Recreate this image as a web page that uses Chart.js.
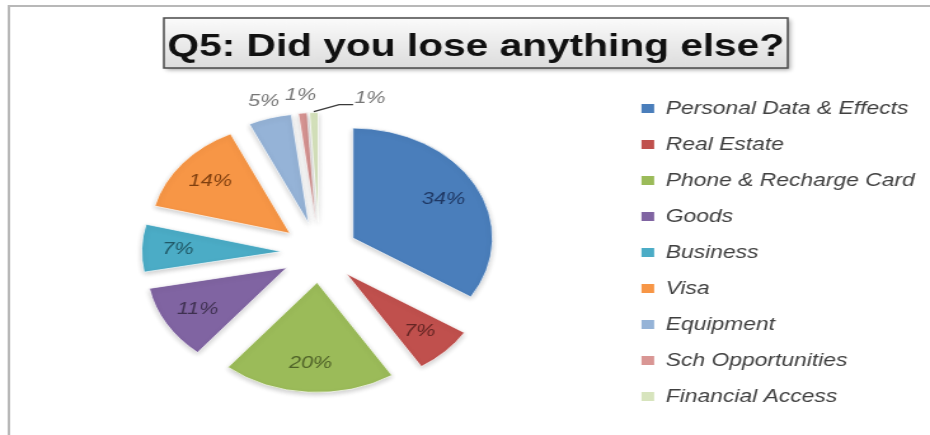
<!DOCTYPE html>
<html>
<head>
<meta charset="utf-8">
<script src="https://cdn.jsdelivr.net/npm/chart.js@4.4.0/dist/chart.umd.min.js"></script>
<style>
  html, body { margin: 0; padding: 0; background: #fff; overflow: hidden; }
  #stage { width: 930px; height: 435px; position: relative; overflow: hidden; }
  /* the original picture is stretched sideways, so draw narrow and stretch */
  #wrap { position: absolute; left: 0; top: 0; width: 732px; height: 435px; transform: scaleX(1.2705); transform-origin: 0 0; }
</style>
</head>
<body>
<div id="stage"><div id="wrap"><canvas id="chart"></canvas></div></div>
<script>
const chartTitle = 'Q5: Did you lose anything else?';
const categories = ['Personal Data & Effects', 'Real Estate', 'Phone & Recharge Card', 'Goods', 'Business', 'Visa', 'Equipment', 'Sch Opportunities', 'Financial Access'];
const values = [34, 7, 20, 11, 7, 14, 5, 1, 1];

const sliceColors = ['#4A7EBB', '#C0504D', '#9BBB59', '#8064A2', '#4BACC6', '#F79646', '#95B3D7', '#D99694', '#D7E4BD'];
const labelColors = ['#1F3864', '#632523', '#4F6228', '#3F3151', '#215967', '#7F3F0F', '#767676', '#767676', '#767676'];

// pulls every slice out along its bisector, like Excel's exploded pie
const explodePlugin = {
    id: 'explode',
    afterDatasetUpdate(chart, args, opts) {
        args.meta.data.forEach(arc => {
            const mid = (arc.startAngle + arc.endAngle) / 2;
            arc.x += Math.cos(mid) * opts.distance;
            arc.y += Math.sin(mid) * opts.distance;
        });
    },
    beforeDatasetsDraw(chart) {
        const ctx = chart.ctx;
        ctx.save();
        ctx.shadowColor = 'rgba(0, 0, 0, 0.2)';
        ctx.shadowBlur = 5;
        ctx.shadowOffsetY = 2;
    },
    afterDatasetsDraw(chart) {
        chart.ctx.restore();
    }
};

const sliceLabelPlugin = {
    id: 'sliceLabels',
    afterDatasetsDraw(chart, args, opts) {
        const ctx = chart.ctx;
        const meta = chart.getDatasetMeta(0);
        const total = values.reduce((a, b) => a + b, 0);
        ctx.save();
        ctx.font = 'italic 17px "Liberation Sans", Arial, sans-serif';
        ctx.textAlign = 'center';
        ctx.textBaseline = 'middle';
        let prev = null;
        meta.data.forEach((arc, i) => {
            const pct = Math.round(values[i] / total * 100);
            const text = pct + '%';
            const mid = (arc.startAngle + arc.endAngle) / 2;
            const r = arc.outerRadius;
            const w = ctx.measureText(text).width;
            ctx.fillStyle = labelColors[i];
            if (pct >= opts.insideMin) {
                ctx.fillText(text, arc.x + Math.cos(mid) * r * opts.inside, arc.y + Math.sin(mid) * r * opts.inside);
                return;
            }
            let x = arc.x + Math.cos(mid) * r * opts.outside;
            let y = arc.y + Math.sin(mid) * r * opts.outside;
            if (prev && x - prev.x < (prev.w + w) / 2 + 4) {
                x = prev.x + prev.w / 2 + opts.leaderGap + w / 2;
                y = prev.y + 3;
                ctx.save();
                ctx.strokeStyle = '#3a3a3a';
                ctx.lineWidth = 1.3;
                ctx.beginPath();
                ctx.moveTo(arc.x + Math.cos(mid) * (r + 1), arc.y + Math.sin(mid) * (r + 1));
                ctx.lineTo(x - w / 2 - 12, y + 6);
                ctx.lineTo(x - w / 2 - 1, y + 6);
                ctx.stroke();
                ctx.restore();
            }
            ctx.fillText(text, x, y);
            prev = { x, y, w };
        });
        ctx.restore();
    }
};

const titleBoxPlugin = {
    id: 'titleBox',
    beforeDraw(chart, args, o) {
        const ctx = chart.ctx;
        ctx.save();
        ctx.strokeStyle = '#b8b8b8';
        ctx.lineWidth = 2;
        ctx.beginPath();
        ctx.moveTo(7, chart.height);
        ctx.lineTo(7, 6);
        ctx.lineTo(chart.width, 6);
        ctx.stroke();

        const { left, top, width, height } = o.box;
        ctx.shadowColor = 'rgba(0, 0, 0, 0.35)';
        ctx.shadowBlur = 4;
        ctx.shadowOffsetX = 2;
        ctx.shadowOffsetY = 2;
        const g = ctx.createLinearGradient(0, top, 0, top + height);
        g.addColorStop(0, '#fbfbfb');
        g.addColorStop(1, '#dcdcdc');
        ctx.fillStyle = g;
        ctx.fillRect(left, top, width, height);
        ctx.shadowColor = 'transparent';
        ctx.strokeStyle = '#4a4a4a';
        ctx.lineWidth = 1.5;
        ctx.strokeRect(left, top, width, height);
        ctx.font = 'bold 32px "Liberation Sans", Arial, sans-serif';
        ctx.fillStyle = '#111';
        ctx.textAlign = 'center';
        ctx.textBaseline = 'alphabetic';
        ctx.fillText(chartTitle, left + width / 2, o.baseline);
        ctx.restore();
    }
};

const ctx = document.getElementById('chart').getContext('2d');
new Chart(ctx, {
    type: 'pie',
    data: {
        labels: categories,
        datasets: [{
            data: values,
            backgroundColor: sliceColors,
            borderColor: 'rgba(255, 255, 255, 0.7)',
            borderWidth: 1,
            radius: 110
        }]
    },
    options: {
        responsive: true,
        maintainAspectRatio: false,
        animation: false,
        layout: { padding: { left: 16, right: 2, top: 70, bottom: 0 } },
        plugins: {
            title: { display: false },
            tooltip: { enabled: false },
            legend: {
                position: 'right',
                align: 'center',
                labels: {
                    boxWidth: 10,
                    boxHeight: 9,
                    padding: 18,
                    color: '#404040',
                    font: { family: '"Liberation Sans", Arial, sans-serif', style: 'italic', size: 18 },
                    generateLabels(chart) {
                        const items = Chart.DoughnutController.overrides.plugins.legend.labels.generateLabels(chart);
                        return items.map(it => ({ ...it, strokeStyle: it.fillStyle, lineWidth: 0 }));
                    }
                }
            },
            explode: { distance: 30 },
            sliceLabels: { insideMin: 6, inside: 0.74, outside: 1.16, leaderGap: 30 },
            titleBox: { box: { left: 129, top: 18, width: 491, height: 50 }, baseline: 55.5 }
        }
    },
    plugins: [titleBoxPlugin, explodePlugin, sliceLabelPlugin]
});
</script>
</body>
</html>
